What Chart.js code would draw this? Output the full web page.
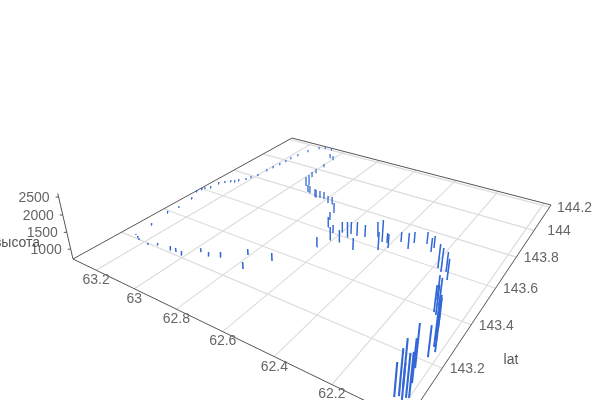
<!DOCTYPE html>
<html>
<head>
<meta charset="utf-8">
<script src="https://cdn.jsdelivr.net/npm/chart.js@4"></script>
<style>
html, body { margin: 0; background: #fff; }
#wrap { width: 600px; height: 400px; }
</style>
</head>
<body>
<div id="wrap"><canvas id="chart" width="600" height="400"></canvas></div>
<script>
// station data
const lons = [
    63.266, 63.242, 63.227, 63.271, 63.289, 63.281, 63.292, 63.320, 63.315, 63.310, 63.294, 63.291, 63.274, 63.258, 63.243, 63.234, 63.213,
    63.207, 63.193, 63.191, 63.187, 63.180, 63.176, 63.176, 63.168, 63.153, 63.127, 63.103, 63.065, 63.020, 62.995, 63.171, 63.139, 63.072,
    63.046, 63.013, 62.967, 62.924, 62.882, 62.807, 62.708, 62.764, 62.988, 62.983, 62.975, 62.940, 62.946, 62.905, 62.893, 62.853, 62.849,
    62.830, 62.810, 62.776, 62.756, 62.708, 62.691, 62.667, 62.626, 62.608, 62.623, 62.571, 62.600, 62.564, 62.563, 62.498, 62.536, 62.506,
    62.470, 62.433, 62.419, 62.414, 62.394, 62.372, 62.328, 62.327, 62.283, 62.247, 62.249, 62.183, 62.164, 62.149, 62.127, 62.110, 62.094,
    62.082, 62.093, 62.047, 62.033, 62.026, 62.014, 62.035, 62.023, 62.035, 62.026, 62.031, 62.013, 62.007, 62.000, 62.017
];
const lats = [
    143.215, 143.205, 143.198, 143.292, 143.385, 143.435, 143.514, 143.567, 143.591, 143.604, 143.623, 143.667, 143.687, 143.707, 143.716, 143.732, 143.755,
    143.781, 143.811, 143.869, 143.907, 143.947, 143.986, 144.023, 144.066, 144.126, 144.181, 144.200, 144.200, 144.126, 144.115, 143.193, 143.211, 143.213,
    143.214, 143.212, 143.259, 143.256, 143.273, 143.331, 143.346, 143.260, 144.033, 143.966, 143.926, 143.859, 143.845, 143.806, 143.804, 143.787, 143.789,
    143.791, 143.792, 143.774, 143.775, 143.721, 143.670, 143.625, 143.600, 143.556, 143.495, 143.562, 143.623, 143.604, 143.629, 143.545, 143.629, 143.638,
    143.667, 143.642, 143.591, 143.646, 143.620, 143.677, 143.651, 143.696, 143.714, 143.676, 143.704, 143.603, 143.588, 143.597, 143.559, 143.450, 143.432,
    143.385, 143.394, 143.329, 143.289, 143.261, 143.244, 143.163, 143.217, 143.048, 143.057, 143.088, 143.050, 143.061, 143.065, 143.112
];
const heights = [
    732, 764, 763, 765, 767, 767, 769, 770, 770, 770, 770, 771, 771, 771, 771, 772, 772,
    772, 772, 773, 774, 774, 775, 776, 776, 777, 778, 778, 777, 851, 850, 763, 763, 824,
    824, 823, 824, 823, 853, 885, 943, 910, 811, 846, 880, 1052, 1016, 943, 943, 974, 940,
    939, 939, 937, 937, 1031, 962, 1022, 955, 1107, 1010, 1075, 1019, 1172, 1080, 1070, 1141, 1078,
    1141, 1381, 1251, 1012, 1132, 1013, 1192, 1043, 1073, 1129, 1071, 1409, 1405, 1289, 1311, 1404, 1454,
    1524, 1447, 1561, 1881, 1922, 1791, 1847, 1536, 1578, 1888, 1921, 1623, 1815, 1839, 1830
];

// axes
const lonTicks = [63.2, 63, 62.8, 62.6, 62.4, 62.2, 62];
const latTicks = [144.2, 144, 143.8, 143.6, 143.4, 143.2];
const zTicks = [1000, 1500, 2000, 2500];
const lonRange = [61.97, 63.33];
const latRange = [143, 144.22];
const zRange = [700, 2600];

const barColor = '#3367d6';
const gridColor = '#dcdcdc';
const axisColor = '#555';
const labelColor = '#666';

// camera: floor corners on the canvas, plus where the verticals converge
const floorA = [73, 259], floorB = [292, 138], floorC = [551, 205], floorD = [407, 421];
const vanish = [315, 1300];
const zScale = -3.12e-5;

const sqX = floorA[0] - floorD[0] + floorC[0] - floorB[0];
const sqY = floorA[1] - floorD[1] + floorC[1] - floorB[1];
const dx1 = floorD[0] - floorC[0], dx2 = floorB[0] - floorC[0];
const dy1 = floorD[1] - floorC[1], dy2 = floorB[1] - floorC[1];
const den = dx1 * dy2 - dx2 * dy1;
const hg = (sqX * dy2 - dx2 * sqY) / den;
const hh = (dx1 * sqY - sqX * dy1) / den;
const ha = floorD[0] - floorA[0] + hg * floorD[0];
const hb = floorB[0] - floorA[0] + hh * floorB[0];
const hd = floorD[1] - floorA[1] + hg * floorD[1];
const he = floorB[1] - floorA[1] + hh * floorB[1];

function depth(lon, lat) {
    const s = (lonRange[1] - lon) / (lonRange[1] - lonRange[0]);
    const t = (lat - latRange[0]) / (latRange[1] - latRange[0]);
    return 1 + hg * s + hh * t;
}

function project(lon, lat, z) {
    const s = (lonRange[1] - lon) / (lonRange[1] - lonRange[0]);
    const t = (lat - latRange[0]) / (latRange[1] - latRange[0]);
    const k = (z - zRange[0]) * zScale;
    const w = 1 + hg * s + hh * t + k;
    return {
        x: (ha * s + hb * t + floorA[0] + k * vanish[0]) / w,
        y: (hd * s + he * t + floorA[1] + k * vanish[1]) / w
    };
}

function lineSet(points, color, width, order) {
    return {
        data: points,
        showLine: true,
        borderColor: color,
        borderWidth: width,
        pointRadius: 0,
        order: order
    };
}

const datasets = [];
const zLow = zRange[0];

// floor grid
lonTicks.forEach(function(lon) {
    datasets.push(lineSet([project(lon, latRange[0], zLow), project(lon, latRange[1], zLow)], gridColor, 1.2, 3));
});
latTicks.forEach(function(lat) {
    datasets.push(lineSet([project(lonRange[0], lat, zLow), project(lonRange[1], lat, zLow)], gridColor, 1.2, 3));
});

// floor edges and height axis
datasets.push(lineSet([
    project(lonRange[0], latRange[0], zLow),
    project(lonRange[1], latRange[0], zLow),
    project(lonRange[1], latRange[1], zLow),
    project(lonRange[0], latRange[1], zLow),
    project(lonRange[0], latRange[0], zLow)
], axisColor, 1, 2));
datasets.push(lineSet([project(lonRange[1], latRange[0], zLow), project(lonRange[1], latRange[0], zRange[1])], axisColor, 1, 2));
zTicks.forEach(function(z) {
    const p = project(lonRange[1], latRange[0], z);
    datasets.push(lineSet([p, { x: p.x - 3, y: p.y }], axisColor, 1, 2));
});

// stations
lons.forEach(function(lon, i) {
    const bar = lineSet([project(lon, lats[i], zLow), project(lon, lats[i], heights[i])], barColor, 1.55 / depth(lon, lats[i]), 1);
    bar.borderCapStyle = 'butt';
    datasets.push(bar);
});

const axisLabels = {
    id: 'axisLabels',
    afterDatasetsDraw(chart) {
        const ctx = chart.ctx;
        const sx = chart.scales.x, sy = chart.scales.y;
        const put = function(text, p, dx, dy, align) {
            ctx.textAlign = align;
            ctx.fillText(text, sx.getPixelForValue(p.x) + dx, sy.getPixelForValue(p.y) + dy);
        };
        ctx.save();
        ctx.font = '14px "Liberation Sans", Arial, sans-serif';
        ctx.fillStyle = labelColor;
        ctx.textBaseline = 'middle';
        lonTicks.forEach(function(lon) {
            put(String(lon), project(lon, latRange[0], zLow), 0, 10, 'center');
        });
        latTicks.forEach(function(lat) {
            put(String(lat), project(lonRange[0], lat, zLow), 25, 1, 'center');
        });
        zTicks.forEach(function(z) {
            put(String(z), project(lonRange[1], latRange[0], z), -9, 1, 'right');
        });
        ctx.fillStyle = axisColor;
        put('lat', { x: 511, y: 360 }, 0, 0, 'center');
        put('высота', { x: 17, y: 243 }, 0, 0, 'center');
        ctx.restore();
    }
};

new Chart(document.getElementById('chart'), {
    type: 'scatter',
    data: { datasets: datasets },
    options: {
        responsive: false,
        animation: false,
        layout: { padding: 0 },
        plugins: { legend: { display: false }, tooltip: { enabled: false } },
        scales: {
            x: { type: 'linear', display: false, min: 0, max: 600 },
            y: { type: 'linear', display: false, min: 0, max: 400, reverse: true }
        }
    },
    plugins: [axisLabels]
});
</script>
</body>
</html>
